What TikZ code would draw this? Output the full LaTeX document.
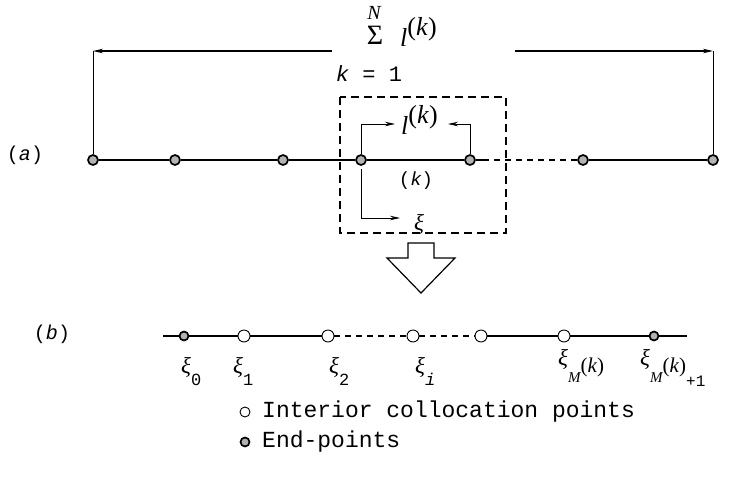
\documentclass[tikz,border=0pt]{standalone}
\usepackage{fontspec}
\newfontfamily\tw{Liberation Mono}
\newfontfamily\lsf{Liberation Serif}
\usetikzlibrary{arrows.meta}
\newcommand\fs[1]{\fontsize{#1}{#1}\selectfont}
\newcommand\lsub[1]{\raisebox{-12pt}{\tw\fs{17}#1}}
\newcommand\xisym{{\lsf\itshape ξ}}
\begin{document}
\begin{tikzpicture}[x=1pt,y=-1pt,
  endpt/.style={circle,draw=black,fill=gray!60,line width=1.7pt,minimum size=10pt,inner sep=0pt},
  intpt/.style={circle,draw=black,fill=white,line width=0.9pt,minimum size=12pt,inner sep=0pt},
  ln/.style={line width=1.3pt},
  thinln/.style={line width=0.8pt},
  arr/.style={-{Stealth[length=10pt,width=4.5pt]}},
  dsh/.style={dash pattern=on 6pt off 5pt},
  lbl/.style={inner sep=0pt},
  leg/.style={font=\tw\fontsize{23}{26}\selectfont,anchor=west,inner sep=0pt}]
\useasboundingbox (0,0) rectangle (739,483);

% labels (a), (b)
\node[lbl] (la) at (25,155) {\tw\fs{20}(\textit{a})};
\node[lbl] (lb) at (52,334) {\tw\fs{20}(\textit{b})};

% top line points
\node[endpt] (a0) at (93,160) {};
\node[endpt] (a1) at (175,160) {};
\node[endpt] (a2) at (283,160) {};
\node[endpt] (a3) at (361,160) {};
\node[endpt] (a4) at (470,160) {};
\node[endpt] (a5) at (583,160) {};
\node[endpt] (a6) at (713,160) {};
\coordinate (d1) at (483,160);
\draw[ln] (a0) -- (a1) -- (a2) -- (a3) -- (a4) -- (d1);
\draw[ln,dsh] (d1) -- (a5);
\draw[ln] (a5) -- (a6);

% total length dimension
\coordinate (tl) at (93,51);
\coordinate (tr) at (713,51);
\coordinate (tlm) at (332,51);
\coordinate (trm) at (515,51);
\draw[thinln] (a0) -- (tl);
\draw[thinln] (a6) -- (tr);
\draw[ln,arr] (tlm) -- (tl);
\draw[ln,arr] (trm) -- (tr);

\node[lbl] (sN) at (374,13) {\lsf\itshape\fs{20}N};
\node[lbl] (sS) at (375,35) {\lsf\fs{28}Σ};
\node[lbl,anchor=base west] (sL) at (400,46) {\lsf\fs{26}\textit{l}\raisebox{11pt}{(\textit{k})}};
\node[lbl] (sK) at (369,74) {\tw\fs{22}\textit{k} = 1};

% dashed box
\draw[ln,dash pattern=on 8pt off 5pt] (340,97) rectangle (506,233);

% l^(k) bracket
\coordinate (lb2) at (395,124);
\coordinate (rb2) at (448,124);
\draw[thinln,arr] (a3.north) |- (lb2);
\draw[thinln,arr] (a4.north) |- (rb2);
\node[lbl,anchor=base west] (lk) at (401,134) {\lsf\fs{26}\textit{l}\raisebox{11pt}{(\textit{k})}};
\node[lbl] (kk) at (416,181) {\tw\fs{19}(\textit{k})};

% xi bracket
\coordinate (x1) at (361,169);
\coordinate (x2) at (400,218);
\draw[thinln,arr] (x1) |- (x2);
\node[lbl] (xi) at (419,224) {\fs{23}\xisym};

% block arrow
\draw[line width=1.2pt] (408,243) -- (434,243) -- (434,258) -- (455,258)
  -- (421,293) -- (387,258) -- (408,258) -- cycle;

% bottom line
\coordinate (bs) at (163,336);
\coordinate (be) at (687,336);
\node[endpt,minimum size=9pt] (b0) at (184,336) {};
\node[intpt] (b1) at (244,336) {};
\node[intpt] (b2) at (328,336) {};
\node[intpt] (b3) at (413,336) {};
\node[intpt] (b4) at (481,336) {};
\node[intpt] (b5) at (564,336) {};
\node[endpt,minimum size=9pt] (b6) at (654,336) {};
\draw[ln] (bs) -- (b0) -- (b1) -- (b2);
\draw[ln,dsh] (b2) -- (b3) -- (b4);
\draw[ln] (b4) -- (b5) -- (b6) -- (be);

% xi labels
\node[lbl,anchor=base west] (x0l) at (181,373) {\fs{23}\xisym\lsub{0}};
\node[lbl,anchor=base west] (x1l) at (233,373) {\fs{23}\xisym\lsub{1}};
\node[lbl,anchor=base west] (x2l) at (329,373) {\fs{23}\xisym\lsub{2}};
\node[lbl,anchor=base west] (xil) at (415,373) {\fs{23}\xisym\lsub{\textit{i}}};
\node[lbl,anchor=base west] (xml) at (558,365)
  {\fs{23}\xisym\raisebox{-17pt}{\lsf\itshape\fs{15}M}\raisebox{-7pt}{\lsf\fs{21}(\textit{k})}};
\node[lbl,anchor=base west] (xm1l) at (640,365)
  {\fs{23}\xisym\raisebox{-17pt}{\lsf\itshape\fs{15}M}\raisebox{-7pt}{\lsf\fs{21}(\textit{k})}\raisebox{-21pt}{\tw\fs{16}+1}};

% legend
\node[intpt,minimum size=10pt] (g1) at (245,412) {};
\node[leg] (g1t) at (262,412) {Interior collocation points};
\node[endpt,minimum size=9pt] (g2) at (245,442) {};
\node[leg] (g2t) at (262,442) {End-points};
\end{tikzpicture}
\end{document}
